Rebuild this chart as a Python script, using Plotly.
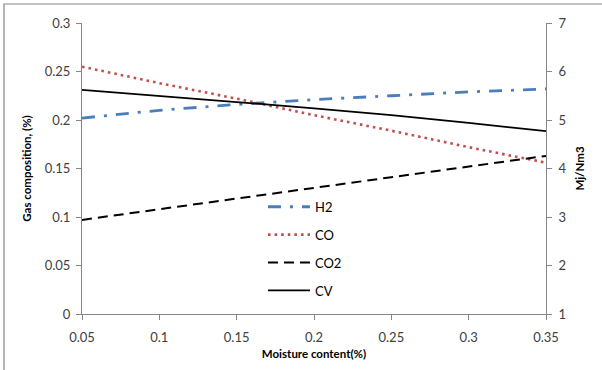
import plotly.graph_objects as go

moisture = [0.05, 0.10, 0.15, 0.20, 0.25, 0.30, 0.35]
h2 = [0.202, 0.210, 0.216, 0.221, 0.225, 0.229, 0.232]
co = [0.255, 0.238, 0.222, 0.205, 0.189, 0.172, 0.156]
co2 = [0.097, 0.108, 0.119, 0.130, 0.141, 0.152, 0.163]
cv = [5.62, 5.50, 5.37, 5.24, 5.10, 4.94, 4.77]

x_ticks = [0.05, 0.1, 0.15, 0.2, 0.25, 0.3, 0.35]
x_ticklabels = ["0.05", "0.1", "0.15", "0.2", "0.25", "0.3", "0.35"]
y_ticks = [0, 0.05, 0.1, 0.15, 0.2, 0.25, 0.3]
y_ticklabels = ["0", "0.05", "0.1", "0.15", "0.2", "0.25", "0.3"]
y2_ticks = [1, 2, 3, 4, 5, 6, 7]

FONT = "Lato, 'Open Sans', sans-serif"
TXT = "#404040"
AX = "#868686"

fig = go.Figure()
fig.add_trace(go.Scatter(x=moisture, y=h2, mode="lines", name="H2", legendgroup="a",
                         line=dict(color="#4A7EBB", width=2.8, dash="13px,9px,3px,9px")))
fig.add_trace(go.Scatter(x=moisture, y=co, mode="lines", name="CO", legendgroup="b",
                         line=dict(color="#C0504D", width=2.6, dash="2.6px,4px")))
fig.add_trace(go.Scatter(x=moisture, y=co2, mode="lines", name="CO2", legendgroup="c",
                         line=dict(color="#000000", width=2, dash="10px,6px")))
fig.add_trace(go.Scatter(x=moisture, y=cv, mode="lines", name="CV", legendgroup="d",
                         yaxis="y2", line=dict(color="#000000", width=1.8)))

axis_common = dict(showgrid=False, zeroline=False, showline=True, linecolor=AX, linewidth=1,
                   ticks="outside", ticklen=5, tickcolor=AX,
                   tickfont=dict(family=FONT, size=13, color=TXT))

title_font = dict(family=FONT, size=11.5, color="#000")

fig.update_layout(
    width=602, height=370,
    margin=dict(l=82, r=56, t=23, b=56),
    paper_bgcolor="white", plot_bgcolor="white",
    font=dict(family=FONT, size=12, color=TXT),
    xaxis=dict(range=[0.05, 0.35], tickvals=x_ticks, ticktext=x_ticklabels,
               ticklabelstandoff=6,
               title=dict(text="<b>Moisture content(%)</b>", font=title_font, standoff=6),
               **axis_common),
    yaxis=dict(range=[0, 0.3], tickvals=y_ticks, ticktext=y_ticklabels,
               ticklabelstandoff=3,
               title=dict(text="<b>Gas composition, (%)</b>", font=title_font, standoff=10),
               **axis_common),
    yaxis2=dict(range=[1, 7], tickvals=y2_ticks, overlaying="y", side="right",
                ticklabelstandoff=4,
                title=dict(text="<b>Mj/Nm3</b>", font=title_font, standoff=10),
                **axis_common),
    legend=dict(x=0.39, y=0.42, xanchor="left", yanchor="top", bgcolor="rgba(0,0,0,0)",
                traceorder="grouped", tracegroupgap=8, itemwidth=42,
                font=dict(family=FONT, size=13, color="#000")),
    shapes=[dict(type="rect", xref="paper", yref="paper",
                 x0=-78/464, y0=-60/291, x1=(602 - 82 + 10)/464, y1=1 + (23 - 4)/291,
                 line=dict(color="#868686", width=1.2), fillcolor="rgba(0,0,0,0)", layer="below")],
)

fig.write_html("out.html", config={"displayModeBar": False},
               post_script="document.body.style.margin='0';document.body.style.padding='0';")
